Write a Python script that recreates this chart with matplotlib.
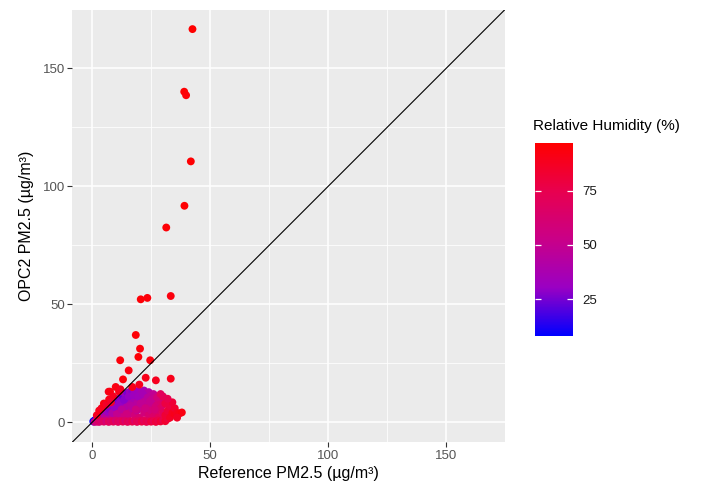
import matplotlib.pyplot as plt
import numpy as np
from matplotlib.colors import LinearSegmentedColormap

plt.rcParams['font.family'] = ['Liberation Sans', 'DejaVu Sans']

# reference PM2.5, OPC2 PM2.5, relative humidity (%)
ref_pm = [
    # along the 1:1 line (dry, purple)
    0.5, 1, 1.5, 2, 3, 4, 5, 6, 7, 8, 9, 10, 11, 12, 13, 14, 15, 16, 17, 18, 19, 20, 21, 22, 23, 24, 25, 26, 27, 28,
    # middle of the cloud
    3, 4, 5, 6, 7, 7, 8, 8, 9, 9, 10, 10, 11, 11, 12, 12, 13, 13, 14, 14, 15, 15, 16, 16, 17, 17, 18, 18,
    19, 19, 20, 20, 21, 21, 22, 22, 23, 23, 24, 24, 25, 25, 26, 26, 27, 27, 28, 28, 29, 29, 30, 30,
    2.5, 3.5, 4.5, 5.5, 6.5, 7.5, 8.5, 9.5, 10.5, 11.5, 12.5, 13.5, 14.5, 15.5, 16.5, 17.5, 18.5, 19.5,
    20.5, 21.5, 22.5, 23.5, 24.5, 25.5, 26.5, 27.5,
    # bottom row
    1, 2, 3, 4, 5, 6, 7, 8, 9, 10, 11, 12, 13, 14, 15, 16, 17, 18, 19, 20, 21, 22, 23, 24, 25, 26, 27, 28, 29, 30, 31, 32,
    # right tail
    31, 32, 33, 33, 34, 35, 35, 36, 37, 38, 36, 34, 31, 32, 30, 29,
    # above the line
    2, 3, 4, 5, 6, 7, 7.6, 7.2, 9, 11.4, 10, 13.1, 15.5, 11.9, 24.6, 19.6, 20.3, 18.5, 22.7, 27, 33.3, 20, 17, 12, 8,
    # high readings
    20.6, 23.4, 33.3, 31.4, 39.1, 41.8, 39, 39.8, 42.5,
]
opc_pm = [
    0.4, 0.8, 1.2, 1.5, 2.5, 3.2, 4.3, 5, 6, 7, 7.5, 8.5, 9.8, 10.5, 11, 12, 12.5, 13, 12.8, 13.5, 12, 13, 12.5, 13.5, 12, 12.8, 11.5, 12, 11, 10,
    1, 2, 1.5, 3, 2, 4, 3, 5, 2, 5, 4, 6.5, 2, 6, 4, 7.5, 3, 8, 5, 9, 2, 7, 4, 10, 6, 8.5, 3, 10,
    5, 8, 2, 10.5, 6, 9, 4, 11, 7, 9.5, 3, 6, 8, 5, 9.5, 2.5, 7, 4, 8.5, 2, 6, 9, 4, 7.5,
    1.8, 2.8, 3.5, 2.2, 4.5, 5.5, 4, 6.5, 3.5, 8, 5.5, 9.5, 3.5, 11, 7, 11.5, 5.5, 11,
    8, 12, 6, 10.5, 9, 10, 5.5, 10.5,
    0.2, 0.3, 0.2, 0.5, 0.3, 0.6, 0.2, 0.5, 0.3, 0.8, 0.2, 0.6, 0.3, 0.7, 0.2, 0.5, 0.3, 0.8, 0.2, 0.6, 0.3, 0.8, 0.2, 0.5, 0.3, 0.6, 0.2, 0.8, 0.4, 1, 0.5, 1.5,
    3, 5, 2, 7, 4, 3.5, 6, 4, 3.8, 4.2, 2, 8.5, 8, 10, 11, 12,
    3, 5, 6, 8, 7.5, 13, 13, 9.7, 11, 13.1, 15, 18.2, 22, 26.3, 26.3, 27.7, 31.2, 37, 18.9, 17.8, 18.5, 16, 15, 14, 8.5,
    52.1, 52.7, 53.5, 82.5, 91.7, 110.5, 140, 138.5, 166.5,
]
rh = [
    8, 10, 12, 25, 22, 28, 20, 24, 18, 22, 26, 20, 24, 28, 22, 30, 26, 32, 28, 35, 30, 34, 38, 36, 40, 42, 45, 48, 50, 55,
    50, 45, 55, 42, 50, 38, 48, 35, 55, 40, 45, 32, 58, 40, 48, 35, 55, 36, 45, 32, 60, 42, 52, 36, 48, 40, 58, 38,
    50, 44, 62, 40, 52, 46, 58, 42, 50, 48, 62, 55, 52, 58, 54, 66, 58, 64, 60, 70, 65, 62, 70, 66,
    40, 35, 30, 45, 32, 28, 42, 30, 50, 30, 46, 28, 56, 30, 44, 32, 55, 34,
    48, 36, 55, 45, 50, 50, 60, 58,
    55, 60, 65, 62, 68, 60, 70, 65, 72, 62, 70, 66, 74, 64, 72, 68, 76, 66, 74, 70, 78, 70, 76, 72, 80, 74, 80, 76, 82, 76, 84, 80,
    82, 80, 86, 78, 88, 90, 84, 88, 90, 92, 86, 82, 78, 75, 72, 70,
    88, 90, 88, 92, 86, 90, 92, 90, 88, 90, 92, 94, 92, 94, 93, 95, 94, 95, 90, 88, 90, 88, 90, 88, 85,
    95, 94, 93, 95, 96, 96, 96, 95, 97,
]

axis_ticks = [0, 50, 100, 150]
rh_ticks = [25, 50, 75]

# ggplot-like blue -> red gradient (Lab interpolated)
cmap = LinearSegmentedColormap.from_list(
    "rh", ["#0000FF", "#9A00C3", "#C90088", "#E8004F", "#FF0000"])

fig = plt.figure(figsize=(7.14, 4.95), dpi=100)
ax = fig.add_axes([0.1015, 0.1071, 0.6058, 0.8737])

ax.set_facecolor("#EBEBEB")
for s in ax.spines.values():
    s.set_visible(False)

lo, hi = -8.3, 174.8
ax.set_xlim(lo, hi)
ax.set_ylim(lo, hi)
ax.set_xticks(axis_ticks)
ax.set_yticks(axis_ticks)
ax.set_xticks([25, 75, 125], minor=True)
ax.set_yticks([25, 75, 125], minor=True)
ax.grid(True, which="major", color="white", linewidth=1.1)
ax.grid(True, which="minor", color="white", linewidth=0.55)
ax.set_axisbelow(True)
ax.tick_params(which="major", length=3.5, width=0.8, color="#333333",
               labelcolor="#555555", labelsize=9.5, pad=2)
ax.tick_params(which="minor", length=0)

sc = ax.scatter(ref_pm, opc_pm, c=rh, cmap=cmap, vmin=min(rh), vmax=max(rh),
                s=32, linewidths=0, zorder=3)
ax.axline((0, 0), slope=1, color="black", linewidth=0.8, zorder=4)

ax.set_xlabel("Reference PM2.5 (µg/m³)", fontsize=11.5, labelpad=3)
ax.set_ylabel("OPC2 PM2.5 (µg/m³)", fontsize=11.5, labelpad=6)

cax = fig.add_axes([0.749, 0.3212, 0.0532, 0.39])
cb = fig.colorbar(sc, cax=cax, ticks=rh_ticks)
cb.outline.set_visible(False)
cax.tick_params(direction="in", color="white", length=4, width=0.9,
                left=True, right=True, labelleft=False, labelright=True,
                labelsize=9.5, labelcolor="#1A1A1A", pad=7)
fig.text(0.7465, 0.745, "Relative Humidity (%)", fontsize=11, va="center")

fig.savefig("out.png", dpi=100)
